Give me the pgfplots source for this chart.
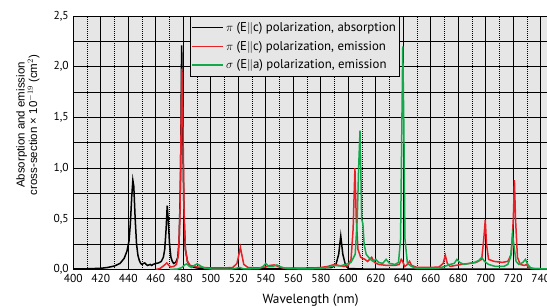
\documentclass[border=0pt]{standalone}
\usepackage{pgfplots}
\pgfplotsset{compat=1.18}
\usepackage{fontspec}
\setmainfont{PT Sans}
\newfontfamily\arialfont{Liberation Sans}
\definecolor{bgc}{RGB}{230,230,230}
\definecolor{myred}{RGB}{232,32,40}
\definecolor{mygreen}{RGB}{20,168,76}
\begin{document}
\begin{tikzpicture}[x=1pt,y=1pt]
\begin{axis}[
  at={(0,0)}, anchor=south west,
  scale only axis, width=474.4pt, height=253.5pt,
  xmin=400, xmax=745, ymin=0, ymax=2.5,
  axis background/.style={fill=bgc},
  axis line style={black, line width=0.8pt},
  xtick={400,420,...,740},
  minor xtick={410,430,...,750},
  ytick={0,0.5,...,2.5},
  minor ytick={0.25,0.75,...,2.25},
  major tick length=0pt, minor tick length=0pt,
  xmajorgrids, xminorgrids, ymajorgrids, yminorgrids,
  major grid style={black, line width=0.8pt},
  minor x grid style={black, line width=0.6pt, dash pattern=on 0.9pt off 1.1pt},
  minor y grid style={black, line width=0.8pt},
  tick label style={font=\fontsize{11.5}{12}\selectfont},
  /pgf/number format/assume math mode=true,
  yticklabel style={/pgf/number format/.cd, use comma, fixed, fixed zerofill, precision=1},
  xticklabel style={/pgf/number format/.cd, set thousands separator={}},
  xticklabel shift=1pt,
  yticklabel shift=1pt,
  xlabel={Wavelength (nm)},
  xlabel style={font=\fontsize{13.3}{16}\selectfont, at={(axis description cs:0.5,0)}, anchor=center, yshift=-30.5pt},
  ylabel={Absorption and emission\\cross-section \texttimes{} 10$^{-19}$ (cm$^2$)},
  ylabel style={font=\arialfont\fontsize{11.5}{12.5}\selectfont, align=center, at={(axis description cs:-0.0955,0.57)}, anchor=center},
  legend style={at={(axis description cs:0.2465,1)}, anchor=north west, fill=bgc, draw=black, line width=0.8pt, font=\fontsize{12.8}{14}\selectfont, row sep=4pt, inner xsep=1pt, inner ysep=4pt},
  legend cell align=left,
  legend image post style={line width=1.5pt},
  legend image code/.code={\draw[#1] (0pt,0pt) -- (31pt,0pt);},
  clip=true,
]
\addplot[black, line width=1.5pt] coordinates {
(400,0.005) (410,0.007) (420,0.012) (425,0.02) (430,0.035) (434,0.06) (437,0.11) (439,0.18) (440.5,0.28) (441.5,0.45) (442.5,0.72) (443.3,0.88) (444,0.82) (445,0.5) (446,0.25) (447,0.14) (448,0.09) (449,0.06) (450,0.05) (451,0.06) (452,0.065) (453,0.05) (454,0.04) (455,0.045) (456,0.05) (457,0.04) (458,0.05) (459,0.055) (460,0.06) (462,0.065) (464,0.08) (465.5,0.12) (466.5,0.2) (467.5,0.4) (468.3,0.63) (469,0.5) (470,0.25) (471,0.12) (472,0.08) (473,0.06) (474.5,0.07) (476,0.12) (477,0.3) (478,0.9) (478.8,2.21) (479.5,1.5) (480.5,0.5) (481.5,0.2) (483,0.08) (485,0.03) (490,0.015) (500,0.01) (520,0.005) (560,0.01) (580,0.015) (588,0.02) (591,0.05) (593,0.15) (594.5,0.33) (596,0.15) (598,0.04) (600,0.01) (610,0.005) (640,0.003) (745,0.003)
};
\addlegendentry{$\pi$ (E$\|$c) polarization, absorption}
\addplot[myred, line width=1.5pt] coordinates {
(460,0.0) (463,0.01) (466,0.04) (468,0.065) (469.5,0.04) (471,0.025) (473,0.03) (475,0.05) (476.5,0.15) (477.5,0.5) (478.5,1.5) (479,1.98) (479.6,1.6) (480.5,0.6) (481.5,0.2) (483,0.08) (485,0.04) (490,0.025) (500,0.015) (510,0.015) (516,0.02) (519,0.06) (520.5,0.15) (521.5,0.22) (522.5,0.15) (524,0.05) (527,0.02) (535,0.015) (540,0.025) (543,0.04) (546,0.045) (549,0.03) (552,0.015) (570,0.01) (580,0.02) (585,0.03) (590,0.05) (593,0.04) (597,0.03) (600,0.04) (602,0.1) (603.5,0.4) (604.8,1.0) (605.8,0.5) (607,0.2) (609,0.12) (612,0.1) (614,0.08) (617,0.12) (619,0.07) (622,0.05) (628,0.04) (634,0.04) (637,0.05) (638.5,0.1) (639.5,0.08) (641,0.03) (643,0.05) (644.5,0.08) (646,0.04) (650,0.02) (660,0.02) (666,0.025) (669,0.06) (670.5,0.14) (672,0.06) (674,0.03) (678,0.04) (682,0.05) (688,0.06) (693,0.07) (697,0.1) (698.5,0.3) (699.6,0.49) (700.5,0.25) (702,0.1) (706,0.08) (712,0.07) (716,0.08) (718.5,0.15) (720,0.5) (720.8,0.88) (721.6,0.5) (723,0.12) (725,0.05) (728,0.04) (729.5,0.05) (731,0.02) (735,0.01) (745,0.005)
};
\addlegendentry{$\pi$ (E$\|$c) polarization, emission}
\addplot[mygreen, line width=1.5pt] coordinates {
(470,0.0) (476,0.005) (479,0.02) (481,0.045) (482.5,0.055) (484,0.035) (486,0.02) (488,0.04) (490,0.055) (492,0.04) (495,0.015) (500,0.005) (515,0.003) (521,0.02) (524,0.005) (535,0.01) (538,0.03) (540,0.06) (542,0.03) (545,0.03) (548,0.045) (551,0.025) (555,0.01) (570,0.005) (580,0.01) (585,0.02) (590,0.04) (594,0.035) (598,0.05) (602,0.07) (605,0.15) (606.5,0.5) (607.5,1.0) (608.5,1.37) (609.2,0.9) (609.7,0.5) (610.6,0.45) (611.5,0.25) (613,0.15) (616,0.1) (618,0.08) (620,0.1) (622,0.07) (625,0.06) (627.5,0.1) (630,0.06) (634,0.05) (636.5,0.07) (638,0.3) (639,1.5) (639.6,2.2) (640.3,1.5) (641.2,0.3) (643,0.06) (646,0.03) (650,0.01) (660,0.01) (666,0.015) (670,0.03) (674,0.05) (677,0.06) (679,0.1) (681,0.07) (684,0.05) (688,0.06) (692,0.07) (695,0.09) (697,0.12) (699,0.08) (702,0.05) (707,0.03) (713,0.03) (716,0.05) (718,0.12) (719.5,0.34) (720.8,0.2) (722,0.08) (724,0.05) (727,0.07) (728.8,0.1) (730.5,0.05) (733,0.01) (745,0.005)
};
\addlegendentry{$\sigma$ (E$\|$a) polarization, emission}
\end{axis}
\pgfresetboundingbox
\useasboundingbox (-73.3,-36.5) rectangle (473.7,269.5);
\end{tikzpicture}
\end{document}
